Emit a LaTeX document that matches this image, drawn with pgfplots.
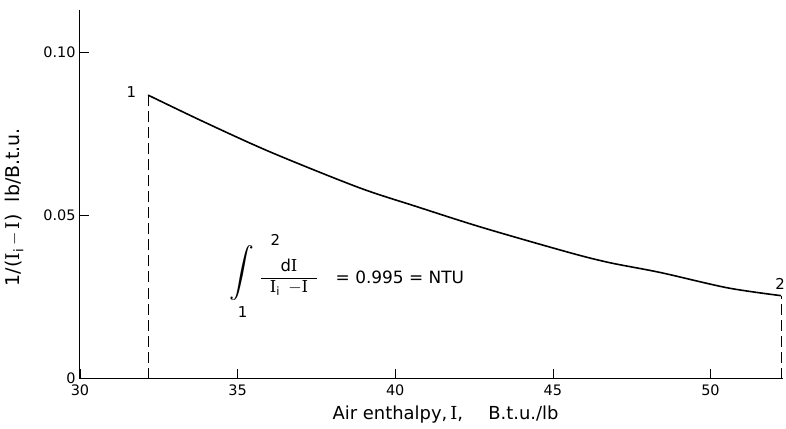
\documentclass[border=0pt]{standalone}
\usepackage{fontspec}
\setmainfont{DejaVu Sans}
\newfontfamily\serifI{DejaVu Serif}
\usepackage{amsmath}
\usepackage{pgfplots}
\pgfplotsset{compat=1.18}
\newcommand{\I}{{\serifI I}}
\begin{document}
\begin{tikzpicture}
\begin{axis}[
  width=703bp, height=368.5bp, scale only axis,
  xmin=30, xmax=52.3, ymin=0, ymax=0.113,
  clip=false,
  axis lines=left,
  axis line style={-, line width=1bp},
  xtick={30,35,40,45,50},
  ytick={0,0.05,0.10},
  yticklabels={0,0.05,0.10},
  tick align=inside,
  major tick length=9bp,
  tick style={black, line width=0.6bp},
  ticklabel style={font=\fontsize{14.5}{16}\selectfont},
  xticklabel style={yshift=-3bp},
  yticklabel style={xshift=-1bp},
  /pgf/number format/assume math mode=true,
  xlabel={Air enthalpy,\,\I,\hspace{1.4em}B.t.u./lb},
  xlabel style={font=\fontsize{18}{20}\selectfont, at={(rel axis cs:0.52,0)}, anchor=center, yshift=-36bp},
  ylabel={1/(\I\textsubscript{i}\,$-$\,\I)\ \ lb/B.t.u.},
  ylabel style={font=\fontsize{19}{21}\selectfont, at={(rel axis cs:0,0.465)}, anchor=center, yshift=66bp},
]
\addplot[black, line width=1.6bp, smooth] coordinates {
  (32.16,0.0869) (33.95,0.0786) (36.05,0.0694) (38.83,0.0586) (40.65,0.0528)
  (42.76,0.0463) (45.53,0.0386) (46.81,0.0355) (48.41,0.0325) (50.54,0.0278)
  (52.24,0.0254)
};
\addplot[black, line width=1.1bp, dash pattern=on 11bp off 5bp] coordinates {(32.16,0) (32.16,0.0869)};
\addplot[black, line width=1.1bp, dash pattern=on 11bp off 5bp] coordinates {(52.24,0) (52.24,0.0254)};
\node[font=\fontsize{15}{17}\selectfont] at (axis cs:31.63,0.0877) {1};
\node[font=\fontsize{15}{17}\selectfont] at (axis cs:52.21,0.0290) {2};
\node at (axis cs:35.12,0.0322) {\fontsize{34}{36}\selectfont$\displaystyle\int$};
\node[font=\fontsize{15}{17}\selectfont] at (axis cs:36.2,0.0425) {2};
\node[font=\fontsize{15}{17}\selectfont] at (axis cs:35.16,0.0205) {1};
\node[font=\fontsize{16.5}{18}\selectfont, inner sep=0pt] at (axis cs:36.63,0.0309)
  {\renewcommand{\arraystretch}{1.2}\setlength{\tabcolsep}{9pt}\begin{tabular}{c}d\I\\\hline \I\textsubscript{i}\hspace{0.5em}$-$\I\end{tabular}};
\node[anchor=west, font=\fontsize{17}{19}\selectfont] at (axis cs:38.0,0.0311) {= 0.995 = NTU};
\end{axis}
\pgfresetboundingbox
\path[use as bounding box] (-80bp,-50.5bp) rectangle (706bp,378.5bp);
\end{tikzpicture}
\end{document}
